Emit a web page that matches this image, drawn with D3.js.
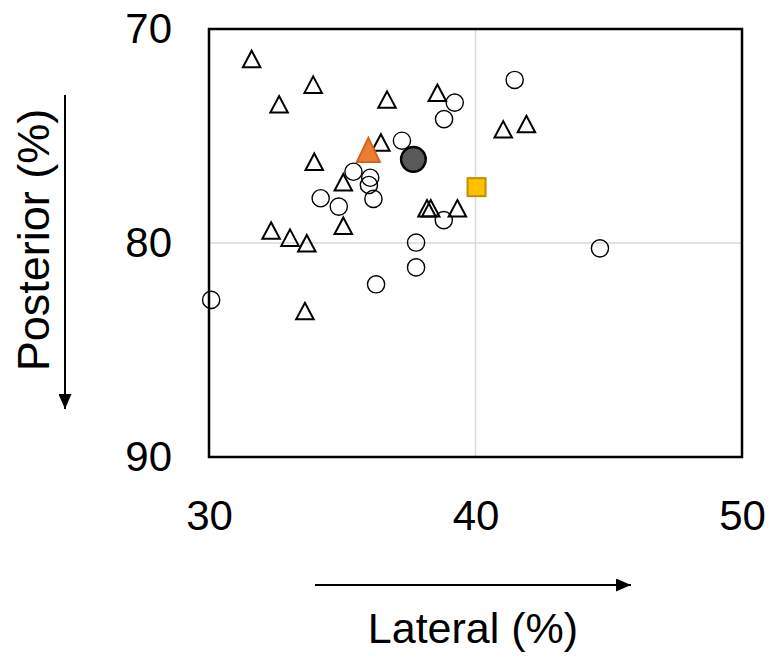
<!DOCTYPE html>
<html>
<head>
<meta charset="utf-8">
<script src="https://cdn.jsdelivr.net/npm/d3@7"></script>
<style>
  body { margin: 0; background: #fff; }
  svg { display: block; font-family: "Liberation Sans", Arial, sans-serif; }
</style>
</head>
<body>
<div id="chart"></div>
<script>
// ------------------------------------------
//  Data (lateral %, posterior %)
// ------------------------------------------
const xTicks = [30, 40, 50]
const yTicks = [70, 80, 90]

const triLateral   = [31.6, 32.63, 33.91, 36.68, 38.57, 36.45, 33.95, 35.04, 35.04, 32.33, 33.04, 33.67, 33.6, 38.18, 38.32, 39.32, 41.04, 41.91]
const triPosterior = [71.4, 73.52, 72.6, 73.3, 72.98, 75.3, 76.2, 77.16, 79.19, 79.42, 79.75, 80.01, 83.18, 78.38, 78.38, 78.38, 74.69, 74.44]

const circLateral   = [41.47, 39.22, 38.82, 37.24, 35.42, 36.05, 36.0, 36.17, 34.19, 34.87, 38.81, 37.77, 37.77, 36.27, 30.08, 44.67]
const circPosterior = [72.38, 73.44, 74.21, 75.22, 76.67, 76.95, 77.29, 77.94, 77.91, 78.3, 78.93, 79.98, 81.14, 81.93, 82.66, 80.25]

const triMean    = [35.98, 75.65]   // orange triangle
const circMean   = [37.67, 76.09]   // dark circle
const squareMark = [40.04, 77.39]   // gold square

// ------------------------------------------
//  Chart
// ------------------------------------------
const W = 770, H = 661
const plot = { left: 209, top: 29, right: 742, bottom: 457 }

const svg = d3.select("#chart").append("svg").attr("width", W).attr("height", H)

const x = d3.scaleLinear().domain([30, 50]).range([plot.left, plot.right])
const y = d3.scaleLinear().domain([70, 90]).range([plot.top, plot.bottom])

// gridlines
svg.append("line")
    .attr("x1", x(40)).attr("x2", x(40)).attr("y1", plot.top).attr("y2", plot.bottom)
    .attr("stroke", "#d9d9d9").attr("stroke-width", 1.5)
svg.append("line")
    .attr("x1", plot.left).attr("x2", plot.right).attr("y1", y(80)).attr("y2", y(80))
    .attr("stroke", "#d9d9d9").attr("stroke-width", 1.5)

// tick labels via axes
const xAxis = svg.append("g")
    .attr("transform", `translate(0,${plot.bottom})`)
    .call(d3.axisBottom(x).tickValues(xTicks).tickSize(0).tickPadding(43))
const yAxis = svg.append("g")
    .attr("transform", `translate(${plot.left},0)`)
    .call(d3.axisLeft(y).tickValues(yTicks).tickSize(0).tickPadding(37))
;[xAxis, yAxis].forEach(a => {
    a.select(".domain").remove()
    a.selectAll("text").attr("font-size", 42).attr("fill", "#000")
        .attr("font-family", "Liberation Sans, Arial, sans-serif")
})

// triangle path centred on its bounding box
const triPath = (w, h) => `M0,${-h / 2}L${w / 2},${h / 2}L${-w / 2},${h / 2}Z`

const pts = triLateral.map((d, i) => [d, triPosterior[i]])
const circs = circLateral.map((d, i) => [d, circPosterior[i]])

svg.append("g").selectAll("circle")
    .data(circs).enter().append("circle")
    .attr("cx", d => x(d[0])).attr("cy", d => y(d[1])).attr("r", 8.6)
    .attr("fill", "none").attr("stroke", "#000").attr("stroke-width", 1.4)

svg.append("g").selectAll("path")
    .data(pts).enter().append("path")
    .attr("d", triPath(17.5, 16.5))
    .attr("transform", d => `translate(${x(d[0])},${y(d[1])})`)
    .attr("fill", "none").attr("stroke", "#000").attr("stroke-width", 2)
    .attr("stroke-linejoin", "miter")

// summary markers
svg.append("path")
    .attr("d", triPath(23, 24))
    .attr("transform", `translate(${x(triMean[0])},${y(triMean[1])})`)
    .attr("fill", "#ED7D31").attr("stroke", "#D0661E").attr("stroke-width", 2)

svg.append("circle")
    .attr("cx", x(circMean[0])).attr("cy", y(circMean[1])).attr("r", 12.3)
    .attr("fill", "#595959").attr("stroke", "#000").attr("stroke-width", 2.5)

svg.append("rect")
    .attr("x", x(squareMark[0]) - 9).attr("y", y(squareMark[1]) - 9)
    .attr("width", 18).attr("height", 18)
    .attr("fill", "#FFC000").attr("stroke", "#BF9000").attr("stroke-width", 2)

// frame
svg.append("rect")
    .attr("x", plot.left).attr("y", plot.top)
    .attr("width", plot.right - plot.left).attr("height", plot.bottom - plot.top)
    .attr("fill", "none").attr("stroke", "#000").attr("stroke-width", 2.5)

// arrows and axis titles
const defs = svg.append("defs")
defs.append("marker").attr("id", "head")
    .attr("viewBox", "0 0 15 13").attr("refX", 15).attr("refY", 6.5)
    .attr("markerWidth", 15).attr("markerHeight", 13).attr("markerUnits", "userSpaceOnUse")
    .attr("orient", "auto")
    .append("path").attr("d", "M0,0L15,6.5L0,13Z").attr("fill", "#000")

svg.append("line")
    .attr("x1", 315).attr("x2", 631).attr("y1", 585).attr("y2", 585)
    .attr("stroke", "#000").attr("stroke-width", 2).attr("marker-end", "url(#head)")

svg.append("line")
    .attr("x1", 65).attr("x2", 65).attr("y1", 95).attr("y2", 409)
    .attr("stroke", "#000").attr("stroke-width", 2).attr("marker-end", "url(#head)")

svg.append("text")
    .attr("x", 473).attr("y", 643).attr("text-anchor", "middle")
    .attr("font-size", 43).text("Lateral (%)")

svg.append("text")
    .attr("transform", "translate(49,240) rotate(-90)").attr("text-anchor", "middle")
    .attr("font-size", 45).text("Posterior (%)")
</script>
</body>
</html>
